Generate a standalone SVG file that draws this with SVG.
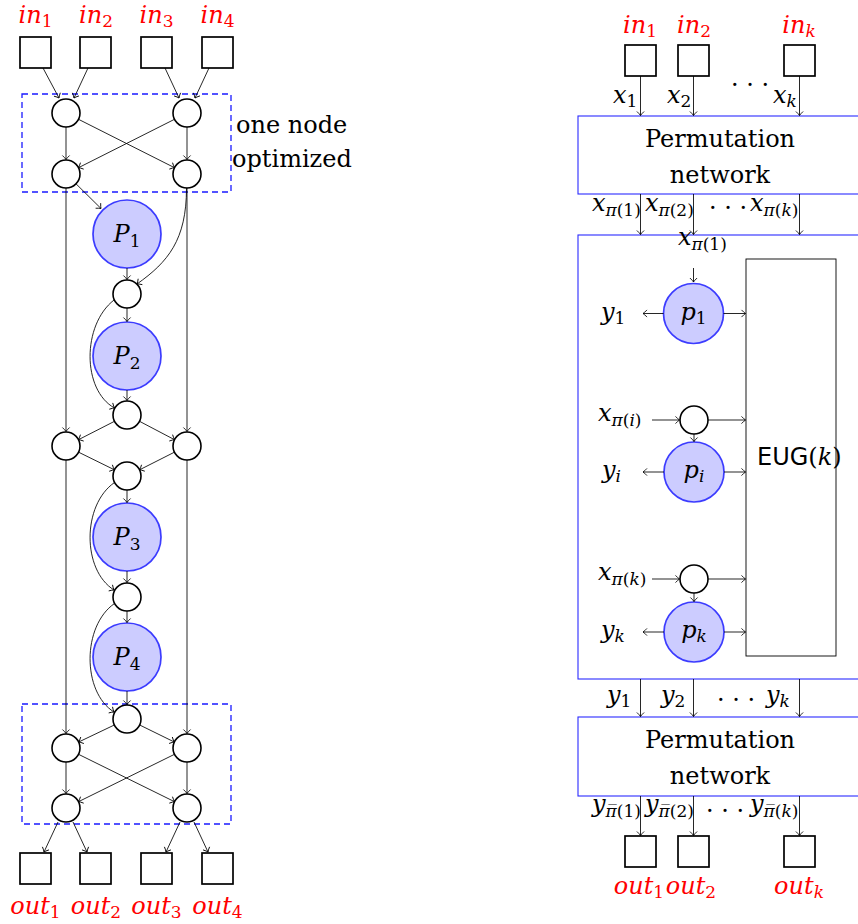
<svg xmlns="http://www.w3.org/2000/svg" width="858" height="924" viewBox="0 0 858 924">
<style>
text{font-family:"DejaVu Serif","Liberation Serif",serif;font-size:24px;fill:#000}
.m{font-style:italic}
.red{fill:#ff0000}
.sub{font-size:17px}
.up{font-style:normal}
.sq{fill:#fff;stroke:#000;stroke-width:1.7}
.nd{fill:#fff;stroke:#000;stroke-width:1.6}
.pn{fill:#ccccff;stroke:#3c3cff;stroke-width:1.7}
.dash{fill:none;stroke:#1a1aff;stroke-width:1.3;stroke-dasharray:6 4}
.bx{fill:none;stroke:#2a2aff;stroke-width:1.1}
.eug{fill:none;stroke:#000;stroke-width:0.9}
.c path,.c line{fill:none;stroke:#000;stroke-width:0.85;marker-end:url(#ah)}
.sans{font-family:"DejaVu Sans","Liberation Sans",sans-serif}
</style>
<defs>
<marker id="ah" markerUnits="userSpaceOnUse" markerWidth="10" markerHeight="10" refX="0" refY="0" viewBox="-6 -5 8 10" orient="auto" overflow="visible">
<path d="M-4,-3.6 Q-1.5,-0.9 0,0 Q-1.5,0.9 -4,3.6" fill="none" stroke="#000" stroke-width="0.85"/>
</marker>
</defs>

<!-- LEFT DIAGRAM -->
<g id="left-group1"><rect class="dash" x="22" y="94" width="209" height="98"/>
<text x="236" y="133">one node</text><text x="232" y="167">optimized</text></g>
<g id="left-group2"><rect class="dash" x="22" y="704" width="209" height="120"/></g>

<g id="in1"><rect class="sq" x="20" y="37" width="31" height="31"/><text class="m red" x="35.5" y="23" text-anchor="middle">in<tspan class="sub up" dy="4">1</tspan></text></g>
<g id="in2"><rect class="sq" x="80" y="37" width="31" height="31"/><text class="m red" x="96" y="23" text-anchor="middle">in<tspan class="sub up" dy="4">2</tspan></text></g>
<g id="in3"><rect class="sq" x="141" y="37" width="31" height="31"/><text class="m red" x="156.5" y="23" text-anchor="middle">in<tspan class="sub up" dy="4">3</tspan></text></g>
<g id="in4"><rect class="sq" x="202" y="37" width="31" height="31"/><text class="m red" x="217.5" y="23" text-anchor="middle">in<tspan class="sub up" dy="4">4</tspan></text></g>

<g id="A1"><circle class="nd" cx="66" cy="113" r="14"/></g>
<g id="A2"><circle class="nd" cx="187" cy="113" r="14"/></g>
<g id="B1"><circle class="nd" cx="66" cy="174" r="14"/></g>
<g id="B2"><circle class="nd" cx="187" cy="174" r="14"/></g>
<g id="P1"><circle class="pn" cx="127" cy="234" r="34"/><text class="m" x="127" y="242" text-anchor="middle" font-size="26">P<tspan class="sub up" dy="5">1</tspan></text></g>
<g id="S1"><circle class="nd" cx="127" cy="294" r="14"/></g>
<g id="P2"><circle class="pn" cx="127" cy="356" r="34"/><text class="m" x="127" y="364" text-anchor="middle" font-size="26">P<tspan class="sub up" dy="5">2</tspan></text></g>
<g id="S2"><circle class="nd" cx="127" cy="415" r="14"/></g>
<g id="C1"><circle class="nd" cx="66" cy="446" r="14"/></g>
<g id="C2"><circle class="nd" cx="187" cy="446" r="14"/></g>
<g id="S3"><circle class="nd" cx="127" cy="476" r="14"/></g>
<g id="P3"><circle class="pn" cx="127" cy="537" r="34"/><text class="m" x="127" y="545" text-anchor="middle" font-size="26">P<tspan class="sub up" dy="5">3</tspan></text></g>
<g id="S4"><circle class="nd" cx="127" cy="597" r="14"/></g>
<g id="P4"><circle class="pn" cx="127" cy="657" r="34"/><text class="m" x="127" y="665" text-anchor="middle" font-size="26">P<tspan class="sub up" dy="5">4</tspan></text></g>
<g id="S5"><circle class="nd" cx="127" cy="719" r="14"/></g>
<g id="D1"><circle class="nd" cx="66" cy="748" r="14"/></g>
<g id="D2"><circle class="nd" cx="187" cy="748" r="14"/></g>
<g id="E1"><circle class="nd" cx="66" cy="808" r="14"/></g>
<g id="E2"><circle class="nd" cx="187" cy="808" r="14"/></g>

<g id="out1"><rect class="sq" x="20" y="853" width="31" height="31"/><text class="m red" x="35.5" y="914" text-anchor="middle">out<tspan class="sub up" dy="4">1</tspan></text></g>
<g id="out2"><rect class="sq" x="80" y="853" width="31" height="31"/><text class="m red" x="96" y="914" text-anchor="middle">out<tspan class="sub up" dy="4">2</tspan></text></g>
<g id="out3"><rect class="sq" x="141" y="853" width="31" height="31"/><text class="m red" x="156.5" y="914" text-anchor="middle">out<tspan class="sub up" dy="4">3</tspan></text></g>
<g id="out4"><rect class="sq" x="202" y="853" width="31" height="31"/><text class="m red" x="217.5" y="914" text-anchor="middle">out<tspan class="sub up" dy="4">4</tspan></text></g>

<!-- RIGHT DIAGRAM -->
<g id="rin1"><rect class="sq" x="625" y="45" width="31" height="31"/><text class="m red" x="640" y="33" text-anchor="middle">in<tspan class="sub up" dy="4">1</tspan></text></g>
<g id="rin2"><rect class="sq" x="678" y="45" width="31" height="31"/><text class="m red" x="694" y="33" text-anchor="middle">in<tspan class="sub up" dy="4">2</tspan></text></g>
<g id="rink"><rect class="sq" x="784" y="45" width="31" height="31"/><text class="m red" x="799" y="33" text-anchor="middle">in<tspan class="sub" dy="4">k</tspan></text></g>
<g id="perm1"><rect class="bx" x="578" y="116" width="290" height="78"/>
<text x="720" y="147" text-anchor="middle">Permutation</text><text x="720" y="183" text-anchor="middle">network</text></g>
<g id="big"><rect class="bx" x="578" y="235" width="290" height="444"/></g>
<g id="eug"><rect class="eug" x="746" y="259" width="90" height="397"/>
<text x="757" y="465"><tspan class="sans">EUG</tspan>(<tspan class="m">k</tspan>)</text></g>
<g id="p1"><circle class="pn" cx="693.5" cy="313.5" r="30"/><text class="m" x="693.5" y="320" text-anchor="middle">p<tspan class="sub up" dy="4">1</tspan></text></g>
<g id="ni"><circle class="nd" cx="694" cy="420" r="14"/></g>
<g id="pi"><circle class="pn" cx="694" cy="472" r="30"/><text class="m" x="694" y="478" text-anchor="middle">p<tspan class="sub" dy="4">i</tspan></text></g>
<g id="nk"><circle class="nd" cx="694" cy="579" r="14"/></g>
<g id="pk"><circle class="pn" cx="694" cy="632" r="30"/><text class="m" x="694" y="638" text-anchor="middle">p<tspan class="sub" dy="4">k</tspan></text></g>
<g id="perm2"><rect class="bx" x="578" y="717" width="290" height="79"/>
<text x="720" y="748" text-anchor="middle">Permutation</text><text x="720" y="784" text-anchor="middle">network</text></g>
<g id="rout1"><rect class="sq" x="625" y="836" width="31" height="31"/><text class="m red" x="639" y="894" text-anchor="middle">out<tspan class="sub up" dy="4">1</tspan></text></g>
<g id="rout2"><rect class="sq" x="678" y="836" width="31" height="31"/><text class="m red" x="691" y="894" text-anchor="middle">out<tspan class="sub up" dy="4">2</tspan></text></g>
<g id="routk"><rect class="sq" x="784" y="836" width="31" height="31"/><text class="m red" x="799" y="894" text-anchor="middle">out<tspan class="sub" dy="4">k</tspan></text></g>

<g id="labels">
<text class="m" x="613" y="103">x<tspan class="sub up" dy="4">1</tspan></text>
<text class="m" x="667" y="103">x<tspan class="sub up" dy="4">2</tspan></text>
<text x="731" y="93">· · ·</text>
<text class="m" x="773" y="103">x<tspan class="sub" dy="4">k</tspan></text>
<text class="m" x="592" y="211">x<tspan class="sub" dy="5">π<tspan class="up">(1)</tspan></tspan></text>
<text class="m" x="645" y="211">x<tspan class="sub" dy="5">π<tspan class="up">(2)</tspan></tspan></text>
<text x="709" y="216">· · ·</text>
<text class="m" x="750" y="211">x<tspan class="sub" dy="5">π<tspan class="up">(</tspan>k<tspan class="up">)</tspan></tspan></text>
<text class="m" x="678" y="245">x<tspan class="sub" dy="5">π<tspan class="up">(1)</tspan></tspan></text>
<text class="m" x="601" y="320">y<tspan class="sub up" dy="4">1</tspan></text>
<text class="m" x="598" y="421">x<tspan class="sub" dy="5">π<tspan class="up">(</tspan>i<tspan class="up">)</tspan></tspan></text>
<text class="m" x="602" y="478">y<tspan class="sub" dy="4">i</tspan></text>
<text class="m" x="598" y="580">x<tspan class="sub" dy="5">π<tspan class="up">(</tspan>k<tspan class="up">)</tspan></tspan></text>
<text class="m" x="601" y="638">y<tspan class="sub" dy="4">k</tspan></text>
<text class="m" x="607" y="703">y<tspan class="sub up" dy="4">1</tspan></text>
<text class="m" x="661" y="703">y<tspan class="sub up" dy="4">2</tspan></text>
<text x="717" y="708">· · ·</text>
<text class="m" x="766" y="703">y<tspan class="sub" dy="4">k</tspan></text>
<text class="m" x="592" y="812">y<tspan class="sub" dy="5">π̅<tspan class="up">(1)</tspan></tspan></text>
<text class="m" x="645" y="812">y<tspan class="sub" dy="5">π̅<tspan class="up">(2)</tspan></tspan></text>
<text x="706" y="819">· · ·</text>
<text class="m" x="750" y="812">y<tspan class="sub" dy="5">π̅<tspan class="up">(</tspan>k<tspan class="up">)</tspan></tspan></text>
</g>

<g id="connectors" class="c">
<line x1="43" y1="68" x2="59" y2="98"/>
<line x1="88" y1="68" x2="74" y2="98"/>
<line x1="165" y1="68" x2="179" y2="98"/>
<line x1="209" y1="68" x2="195" y2="98"/>
<line x1="66" y1="127" x2="66" y2="159.5"/>
<line x1="187" y1="127" x2="187" y2="159.5"/>
<line x1="78.5" y1="119.3" x2="174.5" y2="167.7"/>
<line x1="174.5" y1="119.3" x2="78.5" y2="167.7"/>
<line x1="76" y1="183.8" x2="101" y2="208.5"/>
<line x1="66" y1="188" x2="66" y2="431.5"/>
<line x1="187" y1="188" x2="187" y2="431.5"/>
<path d="M186.5,188 C186.5,240 168,262 137,284"/>
<line x1="127" y1="268" x2="127" y2="279.5"/>
<line x1="127" y1="308" x2="127" y2="321.5"/>
<path d="M114,300 C82,325 82,390 114.5,408"/>
<line x1="127" y1="390" x2="127" y2="400.5"/>
<line x1="114.5" y1="421.3" x2="78.5" y2="439.7"/>
<line x1="139.5" y1="421.3" x2="174.5" y2="439.7"/>
<line x1="78.6" y1="452.2" x2="114.4" y2="469.8"/>
<line x1="174.4" y1="452.2" x2="139.6" y2="469.8"/>
<line x1="66" y1="460" x2="66" y2="733.5"/>
<line x1="187" y1="460" x2="187" y2="733.5"/>
<line x1="127" y1="490" x2="127" y2="502.5"/>
<path d="M114.5,482.5 C82,505 82,570 114,590"/>
<line x1="127" y1="571" x2="127" y2="582.5"/>
<line x1="127" y1="611" x2="127" y2="622.5"/>
<path d="M114.5,603.5 C82,626 82,692 114,712"/>
<line x1="127" y1="691" x2="127" y2="704.5"/>
<line x1="114.3" y1="725" x2="78.7" y2="742"/>
<line x1="139.7" y1="725" x2="174.3" y2="742"/>
<line x1="66" y1="762" x2="66" y2="793.5"/>
<line x1="187" y1="762" x2="187" y2="793.5"/>
<line x1="78.5" y1="754.3" x2="174.5" y2="801.7"/>
<line x1="174.5" y1="754.3" x2="78.5" y2="801.7"/>
<line x1="58" y1="822" x2="44" y2="852"/>
<line x1="73" y1="822" x2="87" y2="852"/>
<line x1="180" y1="822" x2="166" y2="852"/>
<line x1="194" y1="822" x2="208" y2="852"/>

<line x1="640.5" y1="76" x2="640.5" y2="115.5"/>
<line x1="693.5" y1="76" x2="693.5" y2="115.5"/>
<line x1="799.5" y1="76" x2="799.5" y2="115.5"/>
<line x1="640.5" y1="194" x2="640.5" y2="234.5"/>
<line x1="693.5" y1="194" x2="693.5" y2="234.5"/>
<line x1="799.5" y1="194" x2="799.5" y2="234.5"/>
<line x1="693.5" y1="268" x2="693.5" y2="282"/>
<line x1="663.5" y1="313.5" x2="643" y2="313.5"/>
<line x1="723.5" y1="313.5" x2="745.5" y2="313.5"/>
<line x1="652" y1="420" x2="679.5" y2="420"/>
<line x1="708" y1="420" x2="745.5" y2="420"/>
<line x1="694" y1="434" x2="694" y2="441.5"/>
<line x1="664" y1="472" x2="643" y2="472"/>
<line x1="724" y1="472" x2="745.5" y2="472"/>
<line x1="652" y1="579" x2="679.5" y2="579"/>
<line x1="708" y1="579" x2="745.5" y2="579"/>
<line x1="694" y1="593" x2="694" y2="601.5"/>
<line x1="664" y1="632" x2="643" y2="632"/>
<line x1="724" y1="632" x2="745.5" y2="632"/>
<line x1="640.5" y1="679" x2="640.5" y2="716.5"/>
<line x1="693.5" y1="679" x2="693.5" y2="716.5"/>
<line x1="799.5" y1="679" x2="799.5" y2="716.5"/>
<line x1="640.5" y1="796" x2="640.5" y2="835.5"/>
<line x1="693.5" y1="796" x2="693.5" y2="835.5"/>
<line x1="799.5" y1="796" x2="799.5" y2="835.5"/>
</g>
</svg>
